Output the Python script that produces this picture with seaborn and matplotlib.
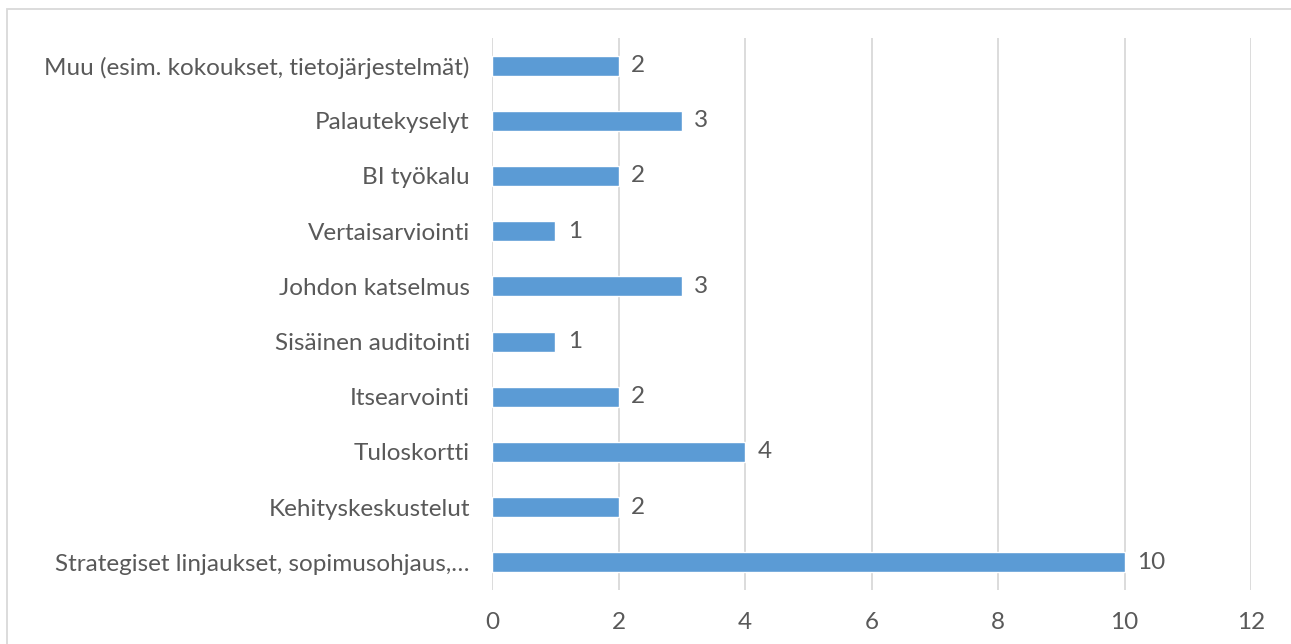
import matplotlib
matplotlib.use("Agg")
import matplotlib.pyplot as plt
import seaborn as sns
import pandas as pd
from matplotlib.patches import Rectangle

categories = [
    "Muu (esim. kokoukset, tietojärjestelmät)",
    "Palautekyselyt",
    "BI työkalu",
    "Vertaisarviointi",
    "Johdon katselmus",
    "Sisäinen auditointi",
    "Itsearvointi",
    "Tuloskortti",
    "Kehityskeskustelut",
    "Strategiset linjaukset, sopimusohjaus,…",
]
values = [2, 3, 2, 1, 3, 1, 2, 4, 2, 10]
x_ticks = [0, 2, 4, 6, 8, 10, 12]

df = pd.DataFrame({"cat": categories, "val": values})

sns.set_theme(style="white")
plt.rcParams["font.family"] = ["Lato", "DejaVu Sans"]
text_color = "#595959"
fs = 17.5

fig = plt.figure(figsize=(12.91, 6.44), dpi=100)
ax = fig.add_axes([492 / 1291, 54 / 644, (1251 - 492) / 1291, (590 - 38) / 644])

sns.barplot(data=df, y="cat", x="val", order=categories, orient="h",
            color="#5B9BD5", saturation=1, width=0.36, ax=ax)

ax.set_xlim(0, 12)
ax.set_ylim(len(categories) - 0.5, -0.5)
ax.set_xticks(x_ticks)
ax.set_xticklabels([str(t) for t in x_ticks])
ax.xaxis.grid(True, color="#d9d9d9", linewidth=1.3)
ax.set_axisbelow(True)
for s in ax.spines.values():
    s.set_visible(False)
ax.set_xlabel("")
ax.set_ylabel("")
ax.tick_params(axis="x", length=0, pad=16, labelsize=fs, labelcolor=text_color)
ax.tick_params(axis="y", length=0, pad=16, labelsize=fs, labelcolor=text_color)

for i, v in enumerate(values):
    ax.text(v + 0.2, i, str(v), va="center", ha="left", fontsize=fs, color=text_color)

fig.patches.append(Rectangle((7 / 1291, -0.1), 1.2, (644 - 9) / 644 + 0.1,
                             transform=fig.transFigure, fill=False,
                             edgecolor="#d9d9d9", linewidth=1.3))

fig.savefig("out.png", dpi=100, facecolor="white")
